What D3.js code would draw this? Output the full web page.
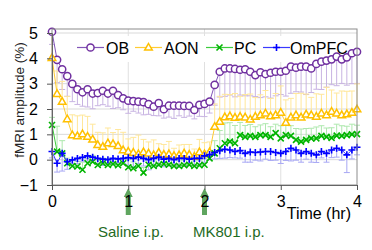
<!DOCTYPE html>
<html><head><meta charset="utf-8">
<script src="https://cdn.jsdelivr.net/npm/d3@7"></script>
<style>
body{margin:0;background:#fff}
svg{display:block}
text{font-family:Arial,"Liberation Sans",sans-serif}
</style>
</head><body>
<svg id="chart" width="372" height="250"></svg>
<script>
// ---------- DATA ----------
const minutes = [0,4,8,12,16,20,24,28,32,36,40,44,48,52,56,60,64,68,72,76,80,84,88,92,96,100,104,108,112,116,120,124,128,132,136,140,144,148,152,156,160,164,168,172,176,180,184,188,192,196,200,204,208,212,216,220,224,228,232,236,240];
const seriesNames = ["OB","AON","PC","OmPFC"];
const obMean = [5.05,3.94,3.57,3.3,2.99,2.78,2.66,2.78,2.61,2.63,2.72,2.61,2.72,2.55,2.42,2.33,2.31,2.29,2.27,2.19,2.09,2.23,1.99,2.13,2.13,2.13,2.12,2.12,1.96,2.16,2.2,2.29,2.95,3.47,3.6,3.6,3.58,3.55,3.57,3.47,3.34,3.45,3.38,3.43,3.47,3.47,3.51,3.67,3.63,3.67,3.67,3.6,3.78,3.87,3.91,3.96,4.07,3.96,4.04,4.2,4.26];
const obErr = [0.5,0.9,0.8,0.8,0.7,0.6,0.55,0.7,0.6,0.5,0.55,0.5,0.7,0.5,0.45,0.5,0.4,0.45,0.5,0.4,0.35,0.5,0.35,0.45,0.5,0.4,0.45,0.4,0.35,0.45,0.5,0.45,0.8,1.0,1.1,1.05,1.1,1.0,1.05,0.95,0.85,1.0,0.9,1.0,0.95,0.9,1.0,1.05,0.95,1.0,1.1,0.95,1.0,1.1,1.05,1.0,1.15,0.95,1.1,1.2,1.25];
const aonMean = [4.02,2.6,2.29,1.6,0.97,0.93,1.01,0.91,0.8,0.58,0.51,0.65,0.62,0.54,0.38,0.32,0.28,0.22,0.3,0.25,0.18,0.28,0.2,0.22,0.15,0.18,0.25,0.2,0.12,0.3,0.22,0.3,1.3,1.5,1.68,1.72,1.66,1.7,1.67,1.59,1.7,1.76,1.83,1.72,1.76,1.86,1.46,1.67,1.76,1.67,1.79,1.76,1.7,1.83,1.76,1.9,1.83,1.76,1.8,1.86,1.99];
const aonErr = [1.0,0.9,0.8,0.9,0.8,0.8,0.75,0.8,0.6,0.5,0.55,0.6,0.45,0.65,0.7,0.5,0.6,0.75,0.5,0.45,0.6,0.35,0.4,0.5,0.3,0.4,0.35,0.4,0.3,0.5,0.45,0.4,0.9,1.0,0.9,0.85,0.95,0.8,0.9,1.0,0.75,0.8,0.9,0.7,0.85,1.05,0.9,0.75,0.85,0.95,0.8,0.7,0.9,0.75,1.1,0.85,0.8,0.95,0.9,0.85,1.0];
const pcMean = [1.37,0.32,0.25,-0.14,-0.25,-0.27,-0.4,-0.14,-0.08,-0.21,-0.14,-0.21,-0.17,-0.22,-0.14,-0.3,-0.34,-0.25,-0.51,-0.2,-0.25,-0.2,-0.17,-0.2,-0.25,-0.25,-0.22,-0.2,-0.25,-0.22,-0.2,0.05,0.25,0.45,0.65,0.71,0.65,0.97,0.9,0.94,0.9,0.97,0.97,0.9,1.05,0.84,0.97,0.94,0.78,0.71,0.78,0.84,0.84,0.94,0.9,0.86,0.95,0.94,0.97,1.0,1.01];
const pcErr = [0.3,1.0,0.5,0.2,0.25,0.2,0.3,0.2,0.25,0.2,0.2,0.25,0.2,0.25,0.2,0.3,0.25,0.4,0.2,0.25,0.2,0.25,0.2,0.2,0.25,0.2,0.2,0.25,0.2,0.2,0.25,0.3,0.5,0.7,0.8,0.75,0.7,0.5,0.45,0.45,0.4,0.4,0.45,0.4,0.35,0.5,0.4,0.4,0.45,0.5,0.45,0.4,0.45,0.4,0.35,0.4,0.45,0.4,0.35,0.4,0.35];
const ompfcMean = [0.32,-0.14,0.25,-0.08,-0.01,0.05,0.09,0.15,0.1,0.05,0.02,0.0,0.05,0.03,0.05,0.08,0.05,0.1,0.05,0.0,0.05,0.1,0.02,0.05,0.0,0.05,0.05,0.02,0.05,0.05,0.15,0.2,0.28,0.35,0.41,0.38,0.32,0.36,0.25,0.3,0.28,0.3,0.32,0.32,0.28,0.25,0.32,0.45,0.38,0.25,0.32,0.25,0.19,0.32,0.25,0.38,0.45,0.38,0.19,0.38,0.49];
const ompfcErr = [0.25,0.35,0.7,0.3,0.15,0.2,0.15,0.2,0.15,0.2,0.25,0.15,0.2,0.15,0.2,0.3,0.35,0.25,0.3,0.4,0.3,0.35,0.3,0.3,0.25,0.35,0.3,0.25,0.3,0.2,0.25,0.2,0.25,0.3,0.35,0.3,0.25,0.3,0.35,0.4,0.3,0.35,0.3,0.35,0.3,0.4,0.35,0.5,0.4,0.35,0.3,0.35,0.3,0.25,0.35,0.3,0.35,0.4,0.7,0.35,0.3];
const xTickValues = [0,1,2,3,4];
const yTickValues = [-1,0,1,2,3,4,5];
const injectionHours = [1,2];
const injectionLabels = ["Saline i.p.","MK801 i.p."];
const xTitle = "Time (hr)";
const yTitle = "fMRI amplitude (%)";

// ---------- SETUP ----------
const svg = d3.select("#chart");
const plotLeft = 52, plotRight = 357, plotTop = 29, plotBottom = 185;
const x = d3.scaleLinear().domain([0,4]).range([plotLeft,plotRight]);
const y = d3.scaleLinear().domain([-1,5]).range([plotBottom,33]);
const hours = minutes.map(m => m/60);

const series = [
  {name:seriesNames[0], mean:obMean, err:obErr, dir:-1, color:"#7030a0", line:"#8255b8", errColor:"#c8b4e2", marker:"circle"},
  {name:seriesNames[1], mean:aonMean, err:aonErr, dir:1, color:"#ffc000", line:"#ffcc33", errColor:"#ffe79a", marker:"triangle"},
  {name:seriesNames[2], mean:pcMean, err:pcErr, dir:1, color:"#00b400", line:"#3ccc3c", errColor:"#aee8ae", marker:"x"},
  {name:seriesNames[3], mean:ompfcMean, err:ompfcErr, dir:-1, color:"#0000ff", line:"#3a3aff", errColor:"#a8a8f4", marker:"plus"}
];

function drawMarker(g, type, color) {
  if (type === "circle") {
    g.append("circle").attr("r",3.6).attr("fill","#fff").attr("stroke",color).attr("stroke-width",1.5);
  } else if (type === "triangle") {
    g.append("path").attr("d","M0,-4L3.8,2.6L-3.8,2.6Z").attr("fill","#fff").attr("stroke",color).attr("stroke-width",1.5);
  } else if (type === "x") {
    g.append("path").attr("d","M-3,-3L3,3M-3,3L3,-3").attr("stroke",color).attr("stroke-width",1.6);
  } else {
    g.append("path").attr("d","M-3.5,0H3.5M0,-3.5V3.5").attr("stroke",color).attr("stroke-width",1.6);
  }
}

// gridlines
const grid = svg.append("g");
yTickValues.filter(v => v > -1).forEach(v => {
  grid.append("line").attr("x1",plotLeft).attr("x2",plotRight).attr("y1",y(v)).attr("y2",y(v))
    .attr("stroke","#d9d9d9").attr("stroke-width",1);
});
xTickValues.filter(v => v > 0 && v < 4).forEach(v => {
  grid.append("line").attr("x1",x(v)).attr("x2",x(v)).attr("y1",plotTop).attr("y2",plotBottom)
    .attr("stroke","#e0e0e0").attr("stroke-width",1);
});

// legend
const legend = svg.append("g");
legend.append("rect").attr("x",plotLeft+1).attr("y",36).attr("width",plotRight-plotLeft-2).attr("height",26).attr("fill","#fff");
const legendX = [77,135,206,263];
const legendTextX = [106,164,234,290];
series.forEach((s,i) => {
  const ly = 47.5;
  legend.append("line").attr("x1",legendX[i]).attr("x2",legendX[i]+27).attr("y1",ly).attr("y2",ly)
    .attr("stroke",s.line).attr("stroke-width",1.2);
  drawMarker(legend.append("g").attr("transform",`translate(${legendX[i]+13.5},${ly})`), s.marker, s.color);
  legend.append("text").attr("x",legendTextX[i]).attr("y",53.5).attr("font-size",16).attr("fill","#000").text(s.name);
});

// error bars
const errG = svg.append("g");
series.forEach(s => {
  s.mean.forEach((m,i) => {
    const xe = x(hours[i]);
    const y0 = y(m), y1 = y(m + s.dir*s.err[i]);
    errG.append("line").attr("x1",xe).attr("x2",xe).attr("y1",y0).attr("y2",y1)
      .attr("stroke",s.errColor).attr("stroke-width",1);
    errG.append("line").attr("x1",xe-3).attr("x2",xe+3).attr("y1",y1).attr("y2",y1)
      .attr("stroke",s.errColor).attr("stroke-width",1);
  });
});

// lines and markers
series.forEach(s => {
  const pts = s.mean.map((m,i) => [hours[i], m]);
  svg.append("path").datum(pts)
    .attr("d", d3.line().x(d => x(d[0])).y(d => y(d[1])))
    .attr("fill","none").attr("stroke",s.line).attr("stroke-width",1);
  const mg = svg.append("g");
  pts.forEach(p => drawMarker(mg.append("g").attr("transform",`translate(${x(p[0])},${y(p[1])})`), s.marker, s.color));
});

// frame
svg.append("rect").attr("x",plotLeft).attr("y",plotTop).attr("width",plotRight-plotLeft).attr("height",plotBottom-plotTop)
  .attr("fill","none").attr("stroke","#8c8c8c").attr("stroke-width",1);

// injection arrows
injectionHours.forEach(h => {
  const ax = x(h);
  svg.append("path").attr("transform",`translate(${ax},188)`)
    .attr("d","M0,0L4.5,9L2.5,9L2.5,27L-2.5,27L-2.5,9L-4.5,9Z").attr("fill","#5fa55f");
});

// axes
const yAxis = svg.append("g").attr("transform",`translate(${plotLeft},0)`)
  .call(d3.axisLeft(y).tickValues(yTickValues).tickFormat(d3.format("d")).tickSize(5).tickPadding(9));
const xAxis = svg.append("g").attr("transform",`translate(0,${plotBottom})`)
  .call(d3.axisBottom(x).tickValues(xTickValues).tickFormat(d3.format("d")).tickSize(5).tickPadding(6));
[yAxis,xAxis].forEach(a => {
  a.select(".domain").attr("stroke","#666");
  a.selectAll(".tick line").attr("stroke","#555");
  a.selectAll(".tick text").attr("font-size",16).attr("fill","#000").attr("font-family","Arial, 'Liberation Sans', sans-serif");
});

// injection labels
const labelX = [98,193];
injectionLabels.forEach((t,i) => {
  svg.append("text").attr("x",labelX[i]).attr("y",237).attr("font-size",15).attr("fill","#1f6b1f").text(t);
});

// titles
svg.append("text").attr("x",351).attr("y",219).attr("text-anchor","end").attr("font-size",16).attr("fill","#000").text(xTitle);
svg.append("text").attr("transform","translate(24,100) rotate(-90)").attr("text-anchor","middle")
  .attr("font-size",13.5).attr("fill","#222").text(yTitle);
</script>
</body></html>
